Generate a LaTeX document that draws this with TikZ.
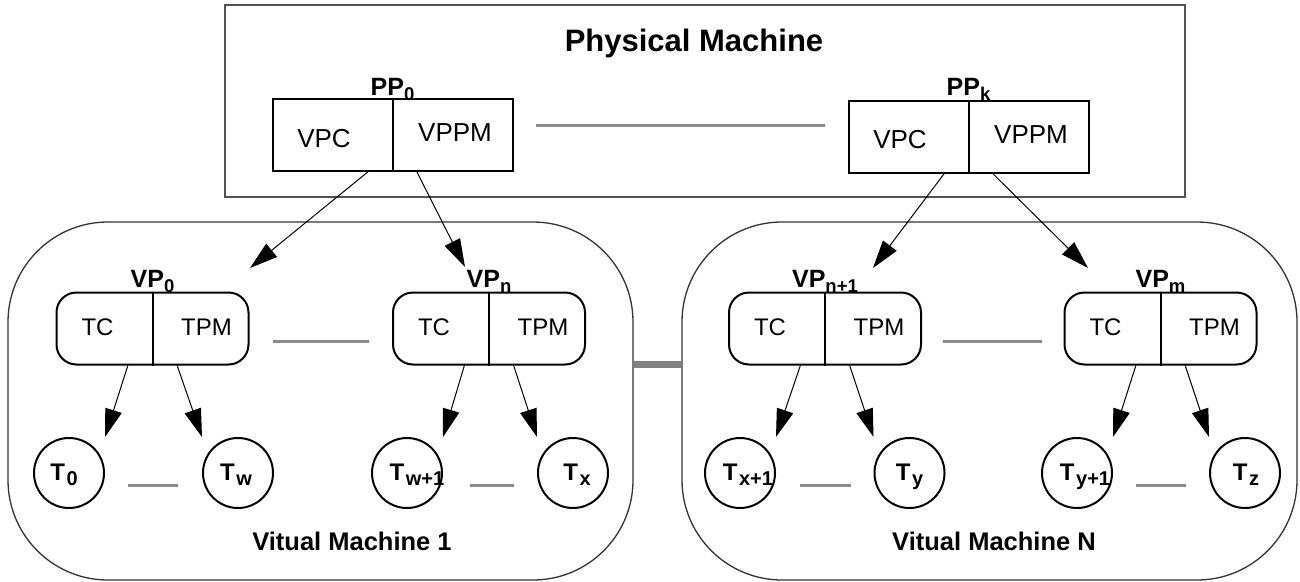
\documentclass[tikz,border=0pt]{standalone}
\usepackage{fontspec}
\setmainfont{Liberation Sans}
\usetikzlibrary{arrows.meta,calc}
\newcommand{\lsub}[1]{\raisebox{-5pt}{\fontsize{18.5}{18.5}\selectfont #1}}
\newcommand{\csub}[1]{\kern1.5pt\raisebox{-5pt}{\fontsize{20}{20}\selectfont #1}}
\tikzset{
  pmbox/.style={draw=black!68, line width=1.6pt},
  vmbox/.style={draw=black!80, line width=1.3pt, rounded corners=100pt, minimum height=358pt},
  pbox/.style={draw, line width=2pt, minimum width=240pt, minimum height=72pt, inner sep=0pt},
  vbox/.style={draw, line width=2pt, rounded corners=20pt, minimum width=192pt, minimum height=72pt, inner sep=0pt},
  tcirc/.style={draw, circle, line width=2pt, minimum size=70pt, inner sep=0pt},
  intext/.style={anchor=base, inner sep=0pt, font=\fontsize{26}{30}\selectfont},
  vtext/.style={anchor=base, inner sep=0pt, font=\fontsize{24}{28}\selectfont},
  lbl/.style={anchor=base, inner sep=0pt, font=\fontsize{25}{28}\selectfont\bfseries},
  ctext/.style={anchor=base, inner sep=0pt, font=\fontsize{24}{28}\selectfont\bfseries},
  ttl/.style={anchor=base, inner sep=0pt, font=\fontsize{25.5}{30}\selectfont\bfseries},
  glink/.style={draw=black!45, line width=3pt},
  bar/.style={draw=black!50, line width=7pt},
  arr/.style={draw, line width=1pt, -{Triangle[length=28pt,width=17pt]}},
}
\begin{document}
\begin{tikzpicture}[x=1pt,y=-1pt]
\useasboundingbox (0,0) rectangle (1300,581);
% physical machine
\node[pmbox, minimum width=960pt, minimum height=192pt, inner sep=0pt] (pm) at (705,101) {};
\node[anchor=base, inner sep=0pt, font=\fontsize{31}{36}\selectfont\bfseries] (pmt) at (694,51) {Physical Machine};
% PP boxes
\node[pbox] (pp0) at (392.5,134.5) {};
\draw[line width=2pt] (pp0.north) -- (pp0.south);
\node[intext] (pp0c) at ($(pp0.center)+(-68.5,13)$) {VPC};
\node[intext] (pp0m) at ($(pp0.center)+(62.5,7)$) {VPPM};
\node[lbl] (pp0l) at (392.5,95) {PP\lsub{0}};
\node[pbox] (ppk) at (968.5,136.5) {};
\draw[line width=2pt] (ppk.north) -- (ppk.south);
\node[intext] (ppkc) at ($(ppk.center)+(-68.5,12)$) {VPC};
\node[intext] (ppkm) at ($(ppk.center)+(62.5,7)$) {VPPM};
\node[lbl] (ppkl) at (968.5,95) {PP\lsub{k}};
\draw[glink] ($(pp0.east)+(22.5,-9.5)$) -- ($(ppk.west)+(-22.5,-11.5)$);
% virtual machines
\node[vmbox, minimum width=625pt] (vm1) at (320.5,401) {};
\node[vmbox, minimum width=615pt] (vmn) at (989.5,401) {};
\draw[bar] (vm1.east |- 0,364.5) -- (vmn.west |- 0,364.5);
\node[ttl] (vm1t) at (352,550) {Vitual Machine 1};
\node[ttl] (vmnt) at (994,550) {Vitual Machine N};
% VP boxes
\foreach \n/\x/\lab in {vp0/152.5/VP\lsub{0}, vpn/489/VP\lsub{n}, vpa/825/VP\lsub{n+1}, vpm/1160.5/VP\lsub{m}}{
  \node[vbox] (\n) at (\x,328.5) {};
  \draw[line width=2pt] (\n.north) -- (\n.south);
  \node[vtext] (\n c) at ($(\n.center)+(-55,6.5)$) {TC};
  \node[vtext] (\n m) at ($(\n.center)+(54,6.5)$) {TPM};
  \node[lbl] (\n l) at (\x,287) {\lab};
}
\draw[glink] ($(vp0.east)+(23,12.5)$) -- ($(vpn.west)+(-23,12.5)$);
\draw[glink] ($(vpa.east)+(21,12.5)$) -- ($(vpm.west)+(-22,12.5)$);
% thread circles
\foreach \n/\x/\lab/\dx in {t0/69/T\csub{0}/-5, tw/238/T\csub{w}/-2, twa/407/T\csub{w+1}/10, tx/573/T\csub{x}/4,
                           txa/740/T\csub{x+1}/8, ty/909.5/T\csub{y}/0, tya/1077/T\csub{y+1}/8, tz/1245/T\csub{z}/1}{
  \node[tcirc] (\n) at (\x,473) {};
  \node[ctext] (\n l) at ($(\n.center)+(\dx,7)$) {\lab};
}
\draw[glink] ($(t0.east)+(23,12)$) -- ($(tw.west)+(-24,12)$);
\draw[glink] ($(twa.east)+(27,12)$) -- ($(tx.west)+(-23,12)$);
\draw[glink] ($(txa.east)+(24,12)$) -- ($(ty.west)+(-23,12)$);
\draw[glink] ($(tya.east)+(23,12)$) -- ($(tz.west)+(-23,12)$);
% arrow tips (free ends)
\coordinate (a1) at (250,268);
\coordinate (a2) at (465,267);
\coordinate (a3) at (873,268);
\coordinate (a4) at (1088,268);
% arrows from PPs
\draw[arr] ($(pp0.south west)!0.40!(pp0.south east)$) -- (a1);
\draw[arr] ($(pp0.south west)!0.60!(pp0.south east)$) -- (a2);
\draw[arr] ($(ppk.south west)!0.40!(ppk.south east)$) -- (a3);
\draw[arr] ($(ppk.south west)!0.60!(ppk.south east)$) -- (a4);
% arrows from VPs to threads
\draw[arr] ($(vp0.south west)!0.373!(vp0.south east)$) -- (t0.east |- t0.north);
\draw[arr] ($(vp0.south west)!0.627!(vp0.south east)$) -- (tw.west |- tw.north);
\draw[arr] ($(vpn.south west)!0.373!(vpn.south east)$) -- (twa.east |- twa.north);
\draw[arr] ($(vpn.south west)!0.627!(vpn.south east)$) -- (tx.west |- tx.north);
\draw[arr] ($(vpa.south west)!0.373!(vpa.south east)$) -- (txa.east |- txa.north);
\draw[arr] ($(vpa.south west)!0.627!(vpa.south east)$) -- (ty.west |- ty.north);
\draw[arr] ($(vpm.south west)!0.373!(vpm.south east)$) -- (tya.east |- tya.north);
\draw[arr] ($(vpm.south west)!0.627!(vpm.south east)$) -- (tz.west |- tz.north);
\end{tikzpicture}
\end{document}
